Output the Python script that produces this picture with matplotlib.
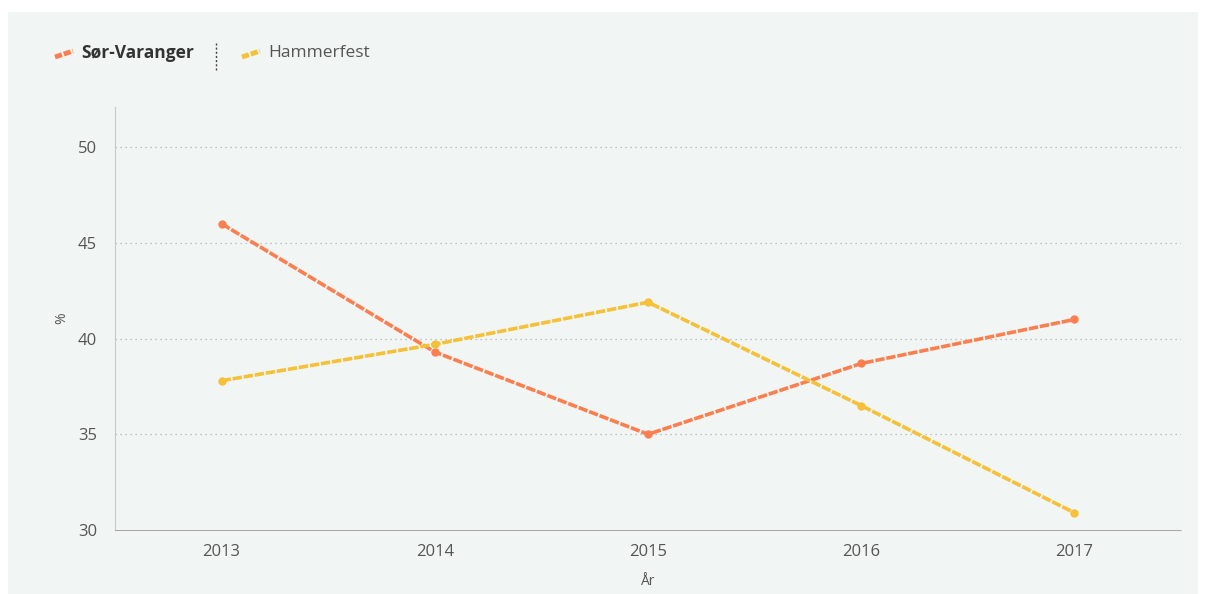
import matplotlib.pyplot as plt
from matplotlib.patches import Rectangle
from matplotlib.lines import Line2D

plt.rcParams['font.family'] = ['Open Sans', 'DejaVu Sans']

years = [2013, 2014, 2015, 2016, 2017]
sor_varanger = [46.0, 39.3, 35.0, 38.7, 41.0]
hammerfest = [37.8, 39.7, 41.9, 36.5, 30.9]
yticks = [30, 35, 40, 45, 50]

orange = '#fd7f4f'
yellow = '#f6c037'
panel = '#f1f5f4'
text_col = '#555555'

fig = plt.figure(figsize=(12.05, 5.94), dpi=100)
fig.patches.append(Rectangle((8 / 1205, 0), 1190 / 1205, 582 / 594,
                             transform=fig.transFigure, facecolor=panel,
                             edgecolor='none', zorder=-10))

ax = fig.add_axes([115 / 1205, 1 - 530 / 594, 1066 / 1205, 423 / 594])
ax.set_facecolor(panel)

ax.plot(years, sor_varanger, color=orange, lw=2.6, ls=(0, (2.6, 0.5)),
        marker='o', ms=5, zorder=3)
ax.plot(years, hammerfest, color=yellow, lw=2.6, ls=(0, (2.6, 0.5)),
        marker='o', ms=5, zorder=3)

ax.set_xlim(2012.5, 2017.5)
ax.set_ylim(30, 52.1)
ax.set_xticks(years)
ax.set_yticks(yticks)
ax.tick_params(axis='x', length=0, labelsize=12, colors=text_col, pad=10)
ax.tick_params(axis='y', length=0, labelsize=12, colors=text_col, pad=13)
for y in yticks[1:]:
    ax.axhline(y, color='#b0b0b0', lw=0.9, ls=(0, (1, 3)), zorder=1)

for s in ['top', 'right']:
    ax.spines[s].set_visible(False)
ax.spines['left'].set_color('#c8c8c8')
ax.spines['bottom'].set_color('#aaaaaa')
ax.spines['bottom'].set_linestyle((0, (1, 1)))

ax.set_ylabel('%', fontsize=10, color=text_col, labelpad=6)
ax.set_xlabel('År', fontsize=10, color=text_col, labelpad=10)

# legend drawn by hand
fig.lines.append(Line2D([55 / 1205, 73 / 1205], [1 - 57 / 594, 1 - 51 / 594],
                        transform=fig.transFigure, color=orange, lw=3.5,
                        ls=(0, (1.5, 0.4))))
fig.text(81 / 1205, 1 - 53 / 594, 'Sør-Varanger', fontsize=12.5,
         fontweight='bold', color='#333333', va='center')
fig.lines.append(Line2D([216 / 1205, 216 / 1205], [1 - 70 / 594, 1 - 43 / 594],
                        transform=fig.transFigure, color='#444444', lw=1,
                        ls=(0, (1.5, 1.5))))
fig.lines.append(Line2D([242 / 1205, 260 / 1205], [1 - 57 / 594, 1 - 51 / 594],
                        transform=fig.transFigure, color=yellow, lw=3.5,
                        ls=(0, (1.5, 0.4))))
fig.text(268 / 1205, 1 - 53 / 594, 'Hammerfest', fontsize=12.5,
         color='#555555', va='center')

fig.savefig('out.png', dpi=100)
